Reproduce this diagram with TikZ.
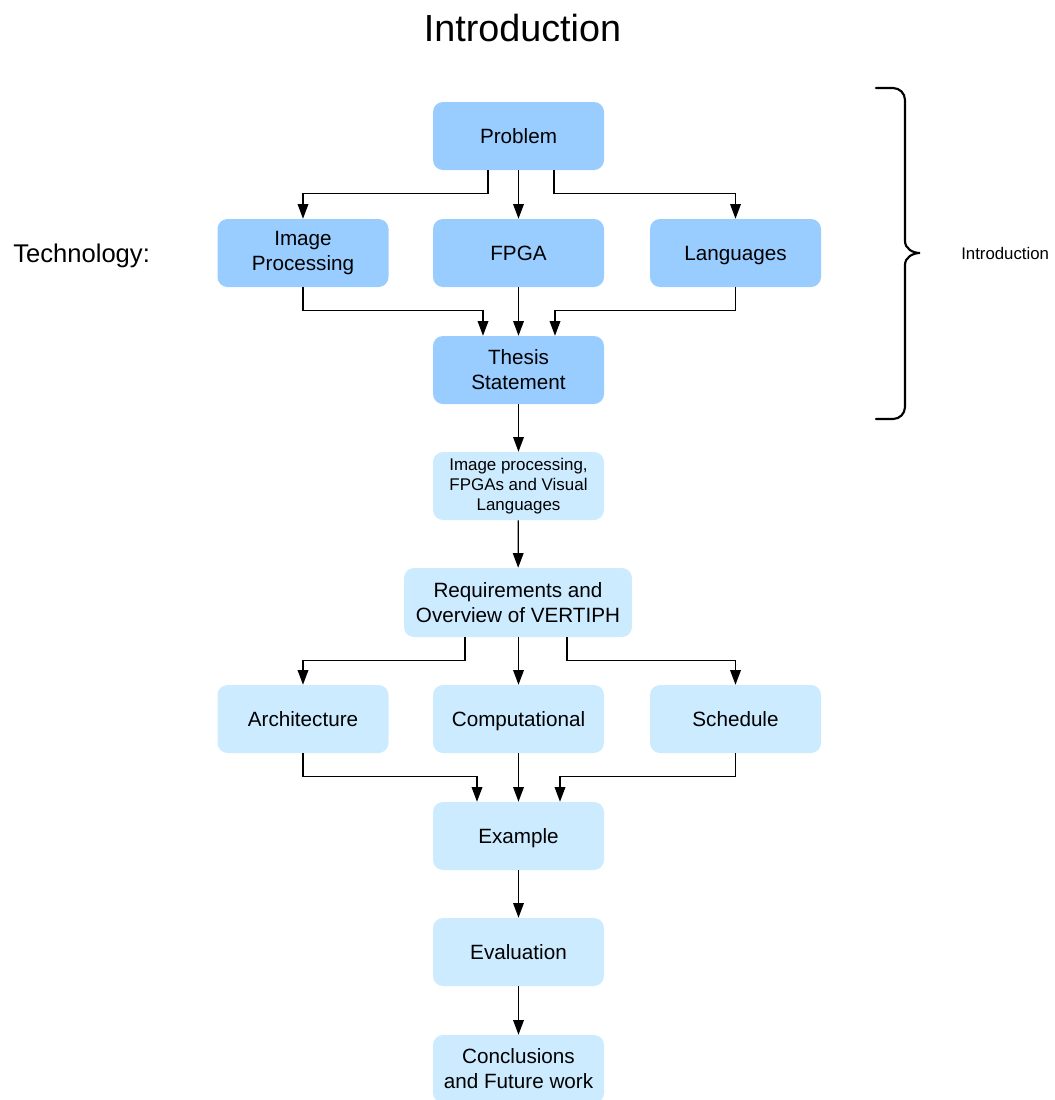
\documentclass[tikz,border=0pt]{standalone}
\usepackage{fontspec}
\setmainfont{Liberation Sans}
\usetikzlibrary{arrows.meta,calc}
\definecolor{darkbox}{HTML}{99CCFF}
\definecolor{lightbox}{HTML}{CCEBFF}
\begin{document}
\begin{tikzpicture}[x=0.75pt,y=-0.75pt,
  box/.style={rounded corners=7.5pt,minimum width=128.25pt,minimum height=51pt,
    inner sep=0pt,align=center,text=black,
    font=\fontsize{15.5}{18.75}\selectfont},
  oneline/.style={text height=11.2pt,text depth=0pt},
  mainbox/.style={box,fill=darkbox},
  subbox/.style={box,fill=lightbox},
  arr/.style={draw=black,line width=0.95pt,-{Triangle[length=11pt,width=8pt]}}]
\useasboundingbox (0,0) rectangle (1055,1100);
\begin{scope}
\clip (0,0) rectangle (1055,1100);

% title and side labels
\node (title) at (522.5,28) {\fontsize{28.3}{34}\selectfont Introduction};
\node[anchor=base west,inner sep=0pt] (tech) at (13,262) {\fontsize{19.2}{22}\selectfont Technology:};

% introduction part
\node[mainbox,oneline] (prob) at (518.5,136) {Problem};
\node[mainbox] (imgp) at (303,253) {Image\\Processing};
\node[mainbox,oneline] (fpga) at (518.5,253) {FPGA};
\node[mainbox,oneline] (lang) at (735.5,253) {Languages};
\node[mainbox] (thesis) at (518.5,370) {Thesis\\Statement};

% remaining chapters
\node[subbox,font=\fontsize{12.7}{15}\selectfont] (bg) at (518.5,486) {Image processing,\\FPGAs and Visual\\Languages};
\node[subbox,minimum width=171pt,minimum height=51.75pt] (req) at (518,602.5) {Requirements and\\Overview of VERTIPH};
\node[subbox,oneline] (arch) at (303,719) {Architecture};
\node[subbox,oneline] (comp) at (518.5,719) {Computational};
\node[subbox,oneline] (sched) at (735.5,719) {Schedule};
\node[subbox,oneline] (ex) at (518.5,836) {Example};
\node[subbox,oneline] (eval) at (518.5,952) {Evaluation};
\node[subbox] (concl) at (518.5,1069) {Conclusions\\and Future work};

% connectors
\draw[arr] ($(prob.south)+(-30.5,0)$) -- ++(0,23) -| (imgp.north);
\draw[arr] (prob) -- (fpga);
\draw[arr] ($(prob.south)+(35.5,0)$) -- ++(0,23) -| (lang.north);
\draw[arr] (imgp.south) -- ++(0,23) -| ($(thesis.north)+(-35.5,0)$);
\draw[arr] (fpga) -- (thesis);
\draw[arr] (lang.south) -- ++(0,23) -| ($(thesis.north)+(36.5,0)$);
\draw[arr] (thesis) -- (bg);
\draw[arr] (bg) -- (req);
\draw[arr] ($(req.south)+(-53,0)$) -- ++(0,23) -| (arch.north);
\draw[arr] (req.south -| comp.north) -- (comp);
\draw[arr] ($(req.south)+(49,0)$) -- ++(0,23) -| (sched.north);
\draw[arr] (arch.south) -- ++(0,23) -| ($(ex.north)+(-41.5,0)$);
\draw[arr] (comp) -- (ex);
\draw[arr] (sched.south) -- ++(0,23) -| ($(ex.north)+(41.5,0)$);
\draw[arr] (ex) -- (eval);
\draw[arr] (eval) -- (concl);

% brace around the introduction part
\draw[line width=1.6pt,line cap=round]
  (876,88) -- (893,88) to[out=0,in=90] (905,100) -- (905,241)
  to[out=-90,in=180] (920,253) to[out=180,in=90] (905,265) -- (905,407)
  to[out=-90,in=0] (893,419) -- (876,419);
\node[anchor=west,inner sep=0pt] (intro) at (961,253) {\fontsize{12.6}{15}\selectfont Introduction};
\end{scope}
\end{tikzpicture}
\end{document}
